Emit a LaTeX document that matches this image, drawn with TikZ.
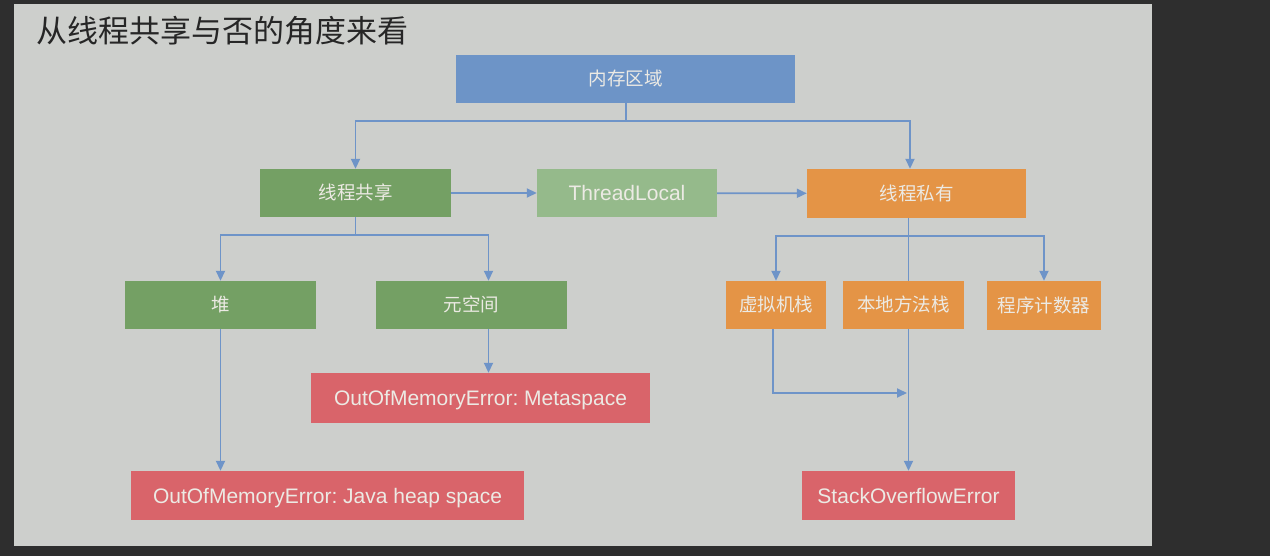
\documentclass[tikz,border=0pt]{standalone}
\usepackage{fontspec}
\setmainfont{Liberation Sans}
\newfontfamily\cjk{Noto Sans CJK SC}
\usetikzlibrary{arrows.meta}
\frenchspacing
\definecolor{darkbg}{HTML}{2E2E2E}
\definecolor{panel}{HTML}{CDCFCC}
\definecolor{memblue}{HTML}{6D94C7}
\definecolor{sharegreen}{HTML}{74A064}
\definecolor{tlgreen}{HTML}{95BA8B}
\definecolor{privorange}{HTML}{E49446}
\definecolor{errred}{HTML}{D9646A}
\definecolor{linkblue}{HTML}{6E94C8}
\definecolor{boxtext}{HTML}{ECEAE4}
\begin{document}
\begin{tikzpicture}[x=1pt,y=-1pt,
  box/.style={draw=none,inner sep=0pt,minimum width=#1,text=boxtext},
  cn/.style={font=\cjk\fontsize{18.5}{20}\selectfont,text height=14pt,text depth=0pt},
  en/.style={font=\fontsize{21}{24}\selectfont,text height=15pt,text depth=0pt},
  arr/.style={draw=linkblue,line width=1.8pt,-{Triangle[length=10pt,width=9pt]}},
  ln/.style={draw=linkblue,line width=1.8pt}]
\fill[darkbg] (0,0) rectangle (1270,556);
\fill[panel] (14,4) rectangle (1152,546);
\useasboundingbox (0,0) rectangle (1270,556);

\node[anchor=west,inner sep=0pt,font=\cjk\fontsize{31}{33}\selectfont,text=black!85] (title) at (36,31) {从线程共享与否的角度来看};

\node[box=339pt,minimum height=48pt,fill=memblue,cn] (mem) at (625.5,79) {内存区域};
\node[box=191pt,minimum height=48pt,fill=sharegreen,cn] (share) at (355.5,193) {线程共享};
\node[box=180pt,minimum height=48pt,fill=tlgreen,en] (tl) at (627,193) {ThreadLocal};
\node[box=219pt,minimum height=49pt,fill=privorange,cn] (priv) at (916.5,193.5) {线程私有};
\node[box=191pt,minimum height=48pt,fill=sharegreen,cn] (heap) at (220.5,305) {堆};
\node[box=191pt,minimum height=48pt,fill=sharegreen,cn] (meta) at (471.5,305) {元空间};
\node[box=100pt,minimum height=48pt,fill=privorange,cn] (vm) at (776,305) {虚拟机栈};
\node[box=121pt,minimum height=48pt,fill=privorange,cn] (native) at (903.5,305) {本地方法栈};
\node[box=114pt,minimum height=49pt,fill=privorange,cn] (pc) at (1044,305.5) {程序计数器};
\node[box=339pt,minimum height=50pt,fill=errred,en] (oommeta) at (480.5,398) {OutOfMemoryError: Metaspace};
\node[box=393pt,minimum height=49pt,fill=errred,en] (oomheap) at (327.5,495.5) {OutOfMemoryError: Java heap space};
\node[box=213pt,minimum height=49pt,fill=errred,en] (soe) at (908.5,495.5) {StackOverflowError};

% memory region split
\coordinate (j1) at (626,121);
\draw[ln] (mem.south -| j1) -- (j1);
\draw[arr] (j1) -| (share.north);
\draw[arr] (j1) -| ([xshift=-6.5pt]priv.north);

% shared -> ThreadLocal -> private
\draw[arr] (share) -- (tl);
\draw[arr] (tl) -- (priv);

% shared split
\coordinate (j2) at (355.5,235);
\draw[ln] (share.south) -- (j2);
\draw[arr] (j2) -| (heap.north);
\draw[arr] (j2) -| ([xshift=17pt]meta.north);
\draw[arr] ([xshift=17pt]meta.south) -- ([xshift=17pt]meta.south |- oommeta.north);
\draw[arr] (heap.south) -- (heap.south |- oomheap.north);

% private split
\coordinate (j3) at (908.5,236);
\draw[ln] (priv.south -| soe) -- (native.north -| soe);
\draw[arr] (j3) -| (vm.north);
\draw[arr] (j3) -| (pc.north);
\draw[arr] ([xshift=-3pt]vm.south) |- ([xshift=-1.5pt]soe.center |- 0,393);
\draw[arr] (native.south -| soe) -- (soe.north);
\end{tikzpicture}
\end{document}
